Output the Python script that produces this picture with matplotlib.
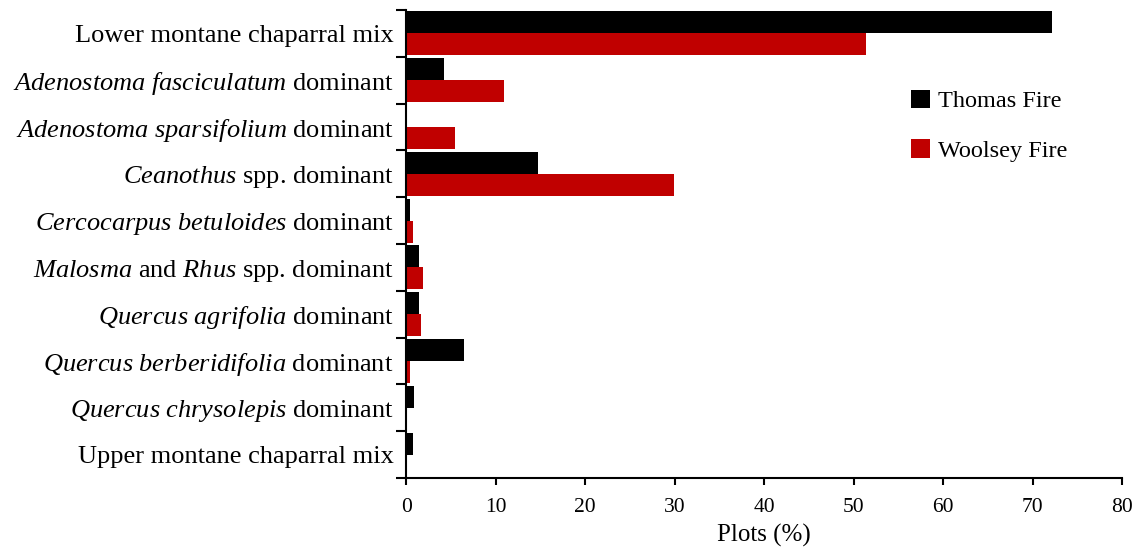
import matplotlib
matplotlib.use('Agg')
import matplotlib.pyplot as plt
import numpy as np

plt.rcParams['font.family'] = 'Liberation Serif'
plt.rcParams['mathtext.fontset'] = 'custom'
plt.rcParams['mathtext.rm'] = 'Liberation Serif'
plt.rcParams['mathtext.it'] = 'Liberation Serif:italic'

categories = [
    'Lower montane chaparral mix',
    r'$\it{Adenostoma\ fasciculatum}$ dominant',
    r'$\it{Adenostoma\ sparsifolium}$ dominant',
    r'$\it{Ceanothus}$ spp. dominant',
    r'$\it{Cercocarpus\ betuloides}$ dominant',
    r'$\it{Malosma}$ and $\it{Rhus}$ spp. dominant',
    r'$\it{Quercus\ agrifolia}$ dominant',
    r'$\it{Quercus\ berberidifolia}$ dominant',
    r'$\it{Quercus\ chrysolepis}$ dominant',
    'Upper montane chaparral mix',
]
thomas = [72.2, 4.2, 0.0, 14.7, 0.4, 1.4, 1.4, 6.5, 0.85, 0.7]
woolsey = [51.4, 10.95, 5.4, 29.9, 0.7, 1.9, 1.7, 0.4, 0.0, 0.0]
xticks = [0, 10, 20, 30, 40, 50, 60, 70, 80]

fig = plt.figure(figsize=(11.38, 5.54), dpi=100)
ax = fig.add_axes([0.357, 0.137, 0.629, 0.845])

n = len(categories)
pos = np.arange(n)
h = 0.47
ax.barh(pos - h / 2, thomas, height=h, color='black', label='Thomas Fire')
ax.barh(pos + h / 2, woolsey, height=h, color='#c00000', label='Woolsey Fire')

ax.set_ylim(n - 0.5, -0.5)
ax.set_xlim(0, 80)
ax.set_xticks(xticks)
ax.tick_params(axis='x', labelsize=15.5, length=5, width=1.5, direction='out', pad=9)
ax.set_yticks(pos)
ax.set_yticklabels(categories, fontsize=19)
ax.tick_params(axis='y', which='major', length=0, pad=9)
ax.set_yticks(np.arange(-0.5, n, 1), minor=True)
ax.tick_params(axis='y', which='minor', length=7, width=1.5, direction='out')

for s in ['top', 'right']:
    ax.spines[s].set_visible(False)
for s in ['left', 'bottom']:
    ax.spines[s].set_linewidth(1.5)

ax.set_xlabel('Plots (%)', fontsize=18, labelpad=5)
ax.legend(loc='upper left', bbox_to_anchor=(0.705, 0.83), frameon=False,
          fontsize=17.5, handlelength=0.8, handleheight=0.8, labelspacing=1.1,
          handletextpad=0.3, borderpad=0, borderaxespad=0)

fig.savefig('out.png', dpi=100)
